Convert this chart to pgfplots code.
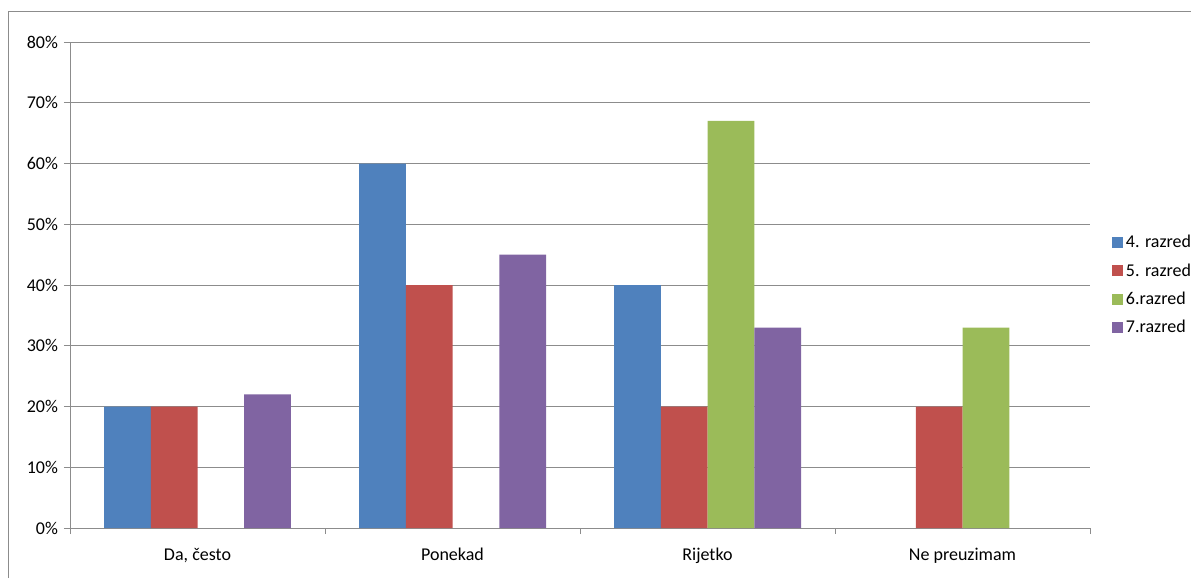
\documentclass[border=0pt]{standalone}
\usepackage{fontspec}
\setmainfont{Carlito}
\usepackage{pgfplots}
\pgfplotsset{compat=1.18}
\definecolor{cA}{HTML}{4F81BD}
\definecolor{cB}{HTML}{C0504D}
\definecolor{cC}{HTML}{9BBB59}
\definecolor{cD}{HTML}{8064A2}
\definecolor{gridc}{HTML}{8C8C8C}
\begin{document}
\begin{tikzpicture}
\path[use as bounding box] (0,0) rectangle (893.25pt,433.5pt);
\draw[gridc, line width=0.75pt] (6pt,0) -- (6pt,424.5pt) -- (893.25pt,424.5pt);
\begin{axis}[
  at={(52.5pt,37.5pt)}, anchor=south west,
  width=765pt, height=364.5pt, scale only axis,
  xmin=0, xmax=4, ymin=0, ymax=80,
  axis lines=left, axis line style={gridc, line width=0.75pt, -},
  /pgf/number format/assume math mode=true,
  font=\fontsize{13.5}{16}\selectfont,
  ytick={0,10,...,80},
  yticklabel={\pgfmathprintnumber{\tick}\%},
  yticklabel style={xshift=-1pt},
  ymajorgrids, grid style={gridc, line width=0.75pt},
  tick style={gridc, line width=0.75pt},
  tick align=outside, major tick length=4.5pt, minor tick length=4.5pt,
  xtick={0.5,1.5,2.5,3.5},
  xticklabels={{Da, često},Ponekad,Rijetko,{Ne preuzimam}},
  xticklabel style={yshift=-7pt},
  minor xtick={0,1,2,3,4},
  major x tick style={draw=none},
  ybar, bar width=35.0625pt,
  legend style={at={(1,0.5)}, anchor=west, xshift=13.5pt, draw=none, fill=none,
    row sep=6.3pt, font=\fontsize{13.5}{16}\selectfont},
  legend cell align=left,
  legend image code/.code={\fill[#1] (0pt,-4.1pt) rectangle (8.25pt,4.1pt);},
]
\addplot[fill=cA, draw=none, bar shift=-52.59pt] coordinates {(0.5,20) (1.5,60) (2.5,40)};
\addplot[fill=cB, draw=none, bar shift=-17.53pt] coordinates {(0.5,20) (1.5,40) (2.5,20) (3.5,20)};
\addplot[fill=cC, draw=none, bar shift=17.53pt] coordinates {(2.5,67) (3.5,33)};
\addplot[fill=cD, draw=none, bar shift=52.59pt] coordinates {(0.5,22) (1.5,45) (2.5,33)};
\legend{4. razred,5. razred,6.razred,7.razred}
\end{axis}
\end{tikzpicture}
\end{document}
